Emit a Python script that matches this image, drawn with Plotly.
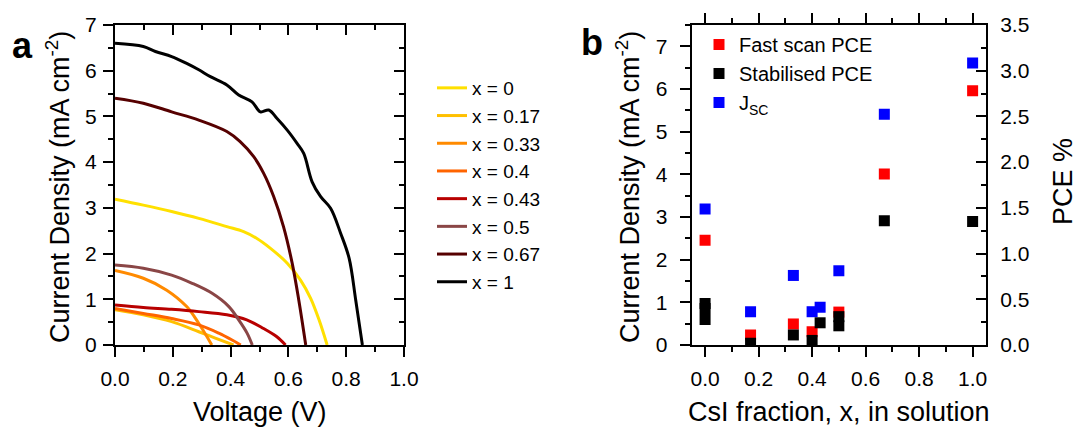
import plotly.graph_objects as go

W, H = 1077, 428
FONT = "Liberation Sans, Arial, sans-serif"

# ---------------- Panel a data (J-V curves) ----------------
labels_a = ["x = 0", "x = 0.17", "x = 0.33", "x = 0.4", "x = 0.43", "x = 0.5", "x = 0.67", "x = 1"]
colors_a = ["#FFE000", "#FFC000", "#FF8A00", "#FF6400", "#B80000", "#8A4646", "#560000", "#000000"]

v_x0 = [0.0, 0.098, 0.196, 0.29, 0.387, 0.445, 0.491, 0.537, 0.596, 0.642, 0.677, 0.706, 0.734]
j_x0 = [3.19, 3.06, 2.92, 2.77, 2.59, 2.48, 2.33, 2.12, 1.79, 1.42, 1.02, 0.55, 0.0]

v_x017 = [0.0, 0.098, 0.196, 0.29, 0.347, 0.41]
j_x017 = [0.77, 0.66, 0.51, 0.29, 0.15, 0.0]

v_x033 = [0.0, 0.098, 0.179, 0.248, 0.29, 0.335]
j_x033 = [1.63, 1.46, 1.20, 0.84, 0.47, 0.0]

v_x04 = [0.0, 0.098, 0.196, 0.29, 0.359, 0.405, 0.435]
j_x04 = [0.80, 0.69, 0.58, 0.44, 0.26, 0.11, 0.0]

v_x043 = [0.0, 0.098, 0.196, 0.29, 0.387, 0.456, 0.514, 0.56, 0.59]
j_x043 = [0.875, 0.82, 0.78, 0.73, 0.66, 0.55, 0.36, 0.18, 0.0]

v_x05 = [0.0, 0.098, 0.196, 0.267, 0.336, 0.394, 0.428, 0.457, 0.475]
j_x05 = [1.75, 1.68, 1.53, 1.35, 1.13, 0.84, 0.55, 0.26, 0.0]

v_x067 = [0.0, 0.098, 0.196, 0.29, 0.387, 0.433, 0.48, 0.514, 0.549, 0.583, 0.613, 0.636, 0.66]
j_x067 = [5.40, 5.29, 5.10, 4.92, 4.67, 4.45, 4.12, 3.76, 3.25, 2.59, 1.79, 0.98, 0.0]

v_x1 = [0.0, 0.098, 0.14, 0.196, 0.248, 0.29, 0.33, 0.387, 0.428, 0.474, 0.503, 0.532,
        0.56, 0.596, 0.63, 0.653, 0.682, 0.711, 0.746, 0.781, 0.81, 0.833, 0.856]
j_x1 = [6.60, 6.53, 6.42, 6.31, 6.16, 6.02, 5.87, 5.69, 5.47, 5.32, 5.10, 5.14,
        4.96, 4.70, 4.41, 4.19, 3.57, 3.25, 2.99, 2.44, 1.90, 0.98, 0.0]

curves_v = [v_x0, v_x017, v_x033, v_x04, v_x043, v_x05, v_x067, v_x1]
curves_j = [j_x0, j_x017, j_x033, j_x04, j_x043, j_x05, j_x067, j_x1]

# ---------------- Panel b data ----------------
fast_x = [0.0, 0.17, 0.33, 0.4, 0.5, 0.67, 1.0]
fast_pce = [1.146, 0.109, 0.23, 0.145, 0.36, 1.87, 2.78]

stab_x = [0.0, 0.0, 0.0, 0.17, 0.33, 0.4, 0.43, 0.5, 0.5, 0.67, 1.0]
stab_pce = [0.455, 0.40, 0.28, 0.02, 0.11, 0.05, 0.243, 0.31, 0.21, 1.36, 1.35]

jsc_x = [0.0, 0.17, 0.33, 0.4, 0.43, 0.5, 0.67, 1.0]
jsc_val = [3.19, 0.78, 1.63, 0.78, 0.885, 1.74, 5.41, 6.61]

# ---------------- Figure ----------------
fig = go.Figure()

for i in range(len(labels_a)):
    fig.add_trace(go.Scatter(
        x=curves_v[i], y=curves_j[i], mode="lines", name=labels_a[i],
        line=dict(color=colors_a[i], width=3), line_shape="spline",
        xaxis="x", yaxis="y", legend="legend",
    ))

# dummy trace for mirrored inside-tick axes of panel a
fig.add_trace(go.Scatter(x=[None], y=[None], xaxis="x3", yaxis="y3",
                         showlegend=False, hoverinfo="skip"))

fig.add_trace(go.Scatter(x=fast_x, y=fast_pce, mode="markers", name="Fast scan PCE",
                         marker=dict(symbol="square", size=11, color="#FF0000"),
                         xaxis="x2", yaxis="y4", legend="legend2"))
fig.add_trace(go.Scatter(x=stab_x, y=stab_pce, mode="markers", name="Stabilised PCE",
                         marker=dict(symbol="square", size=11, color="#000000"),
                         xaxis="x2", yaxis="y4", legend="legend2"))
fig.add_trace(go.Scatter(x=jsc_x, y=jsc_val, mode="markers", name="J<sub>SC</sub>",
                         marker=dict(symbol="square", size=11, color="#0000FF"),
                         xaxis="x2", yaxis="y2", legend="legend2"))

ax_common = dict(showline=True, linewidth=2, linecolor="black", showgrid=False,
                 zeroline=False, tickwidth=2, tickcolor="black",
                 tickfont=dict(family=FONT, size=21, color="black"), automargin=False)

dom_ax = [115 / W, 404 / W]
dom_bx = [691.7 / W, 986 / W]
dom_y = [1 - 345 / H, 1 - 25 / H]

fig.update_layout(
    width=W, height=H, margin=dict(l=0, r=0, t=0, b=0),
    paper_bgcolor="white", plot_bgcolor="white",
    font=dict(family=FONT, color="black"),
    xaxis=dict(**ax_common, domain=dom_ax, range=[0, 1.0], anchor="y",
               ticks="outside", ticklen=10, dtick=0.2, tick0=0, tickformat=".1f",
               minor=dict(ticks="outside", ticklen=5, dtick=0.1, tickwidth=2, tickcolor="black"),
               ticklabelstandoff=4),
    yaxis=dict(**ax_common, domain=dom_y, range=[0, 7], anchor="x",
               ticks="outside", ticklen=10, dtick=1, tick0=0,
               minor=dict(ticks="outside", ticklen=5, dtick=0.5, tickwidth=2, tickcolor="black"),
               ticklabelstandoff=2),
    xaxis3=dict(**ax_common, overlaying="x", side="top", anchor="y", range=[0, 1.0],
                ticks="inside", ticklen=10, dtick=0.2, tick0=0, showticklabels=False,
                minor=dict(ticks="inside", ticklen=5, dtick=0.1, tickwidth=2, tickcolor="black")),
    yaxis3=dict(**ax_common, overlaying="y", side="right", anchor="x", range=[0, 7],
                ticks="inside", ticklen=10, dtick=1, tick0=0, showticklabels=False,
                minor=dict(ticks="inside", ticklen=5, dtick=0.5, tickwidth=2, tickcolor="black")),
    xaxis2=dict(**ax_common, domain=dom_bx, range=[-0.05, 1.05], anchor="y2",
                ticks="outside", ticklen=10, dtick=0.2, tick0=0, tickformat=".1f", mirror="ticks",
                minor=dict(ticks="outside", ticklen=5, dtick=0.1, tickwidth=2, tickcolor="black"),
                ticklabelstandoff=4),
    yaxis2=dict(**ax_common, domain=dom_y, range=[0, 7.5], anchor="x2",
                ticks="outside", ticklen=10, dtick=1, tick0=0,
                minor=dict(ticks="outside", ticklen=5, dtick=0.5, tickwidth=2, tickcolor="black"),
                ticklabelstandoff=8),
    yaxis4=dict(**ax_common, overlaying="y2", side="right", anchor="x2", range=[0, 3.5],
                ticks="inside", ticklen=10, dtick=0.5, tick0=0, tickformat=".1f",
                minor=dict(ticks="inside", ticklen=5, dtick=0.25, tickwidth=2, tickcolor="black"),
                ticklabelstandoff=8),
    legend=dict(x=432 / W, y=1 - 69 / H, xanchor="left", yanchor="top",
                font=dict(family=FONT, size=19, color="black"),
                bgcolor="rgba(0,0,0,0)", itemwidth=30),
    legend2=dict(x=699 / W, y=1 - 25 / H, xanchor="left", yanchor="top",
                 font=dict(family=FONT, size=20, color="black"),
                 bgcolor="rgba(0,0,0,0)", itemwidth=30),
    showlegend=True,
)

ann = dict(xref="paper", yref="paper", showarrow=False, xanchor="center", yanchor="middle",
           font=dict(family=FONT, size=27, color="black"))
fig.add_annotation(**ann, x=58 / W, y=1 - 187 / H, text="Current Density (mA cm<sup>-2</sup>)", textangle=-90)
fig.add_annotation(**ann, x=628 / W, y=1 - 187 / H, text="Current Density (mA cm<sup>-2</sup>)", textangle=-90)
fig.add_annotation(**ann, x=1063 / W, y=1 - 182 / H, text="PCE %", textangle=-90)
fig.add_annotation(**ann, x=259.5 / W, y=1 - 412 / H, text="Voltage (V)")
fig.add_annotation(**ann, x=839 / W, y=1 - 412 / H, text="CsI fraction, x, in solution")
fig.add_annotation(xref="paper", yref="paper", showarrow=False, xanchor="center", yanchor="middle",
                   x=22 / W, y=1 - 45 / H, text="<b>a</b>",
                   font=dict(family=FONT, size=36, color="black"))
fig.add_annotation(xref="paper", yref="paper", showarrow=False, xanchor="center", yanchor="middle",
                   x=592 / W, y=1 - 43 / H, text="<b>b</b>",
                   font=dict(family=FONT, size=36, color="black"))

fig.write_html("out.html", config={"displayModeBar": False},
               post_script="document.body.style.margin='0px';")
